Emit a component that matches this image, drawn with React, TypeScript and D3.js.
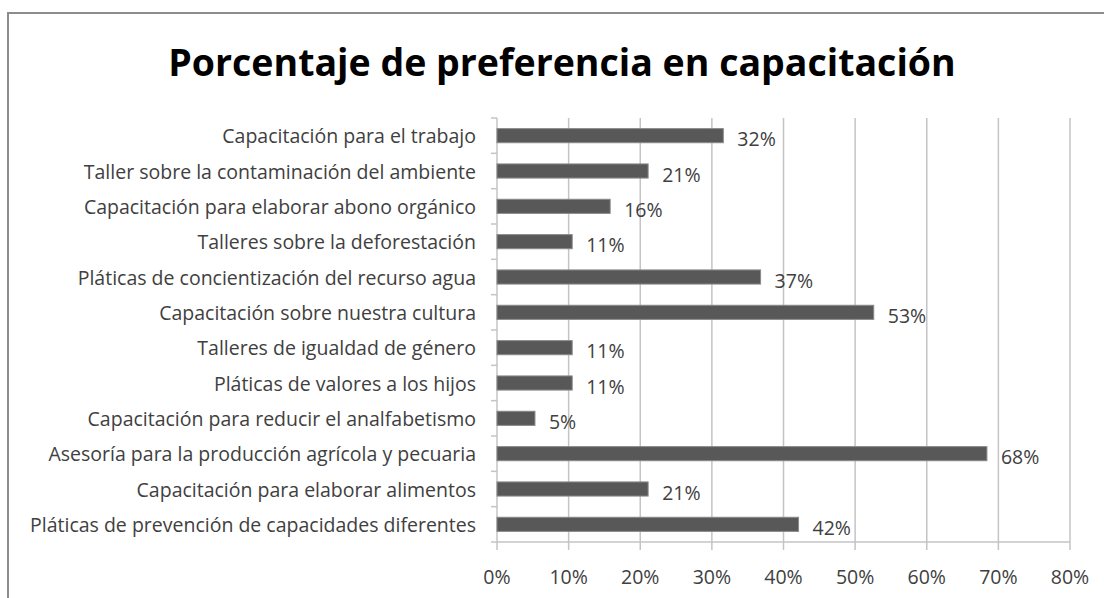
import React from "react";
import * as d3 from "d3";

const categories = [
  "Capacitación para el trabajo",
  "Taller sobre la contaminación del ambiente",
  "Capacitación para elaborar abono orgánico",
  "Talleres sobre la deforestación",
  "Pláticas de concientización del recurso agua",
  "Capacitación sobre nuestra cultura",
  "Talleres de igualdad de género ",
  "Pláticas de valores a los hijos",
  "Capacitación para reducir el analfabetismo",
  "Asesoría para la producción agrícola y pecuaria",
  "Capacitación para elaborar alimentos",
  "Pláticas de prevención de capacidades diferentes",
];
const values = [31.6, 21.1, 15.8, 10.5, 36.8, 52.6, 10.5, 10.5, 5.3, 68.4, 21.1, 42.1];
const xTicks = [0, 10, 20, 30, 40, 50, 60, 70, 80];
const title = "Porcentaje de preferencia en capacitación";

const W = 1104;
const H = 598;
const FONT = "'Open Sans', Lato, sans-serif";
const FS = 19.5;

export default function App() {
  const left = 497;
  const right = 1070;
  const top = 118;
  const bottom = 542;
  const x = d3.scaleLinear().domain([0, 80]).range([left, right]);
  const y = d3.scaleBand<string>().domain(categories).range([top, bottom]).paddingInner(0.6).paddingOuter(0.3);
  const band = (bottom - top) / categories.length;
  const boundaries = d3.range(categories.length + 1).map((i) => top + i * band);

  return (
    <svg width={W} height={H} style={{ position: "absolute", left: 0, top: 0, background: "#fff" }}>
      <rect x={0} y={0} width={W} height={H} fill="#fff" />
      <rect x={8} y={13} width={W + 20} height={H + 20} fill="none" stroke="#8c8c8c" strokeWidth={2} />
      <text x={562} y={76} textAnchor="middle" fontFamily={FONT} fontWeight={700} fontSize={37.5} fill="#000">
        {title}
      </text>
      {xTicks.slice(1).map((t) => (
        <line key={"g" + t} x1={x(t)} x2={x(t)} y1={top} y2={bottom} stroke="#c4c4c4" strokeWidth={1.5} />
      ))}
      <line x1={left} x2={right} y1={bottom} y2={bottom} stroke="#c4c4c4" strokeWidth={1.5} />
      {xTicks.map((t) => (
        <line key={"t" + t} x1={x(t)} x2={x(t)} y1={bottom} y2={bottom + 8} stroke="#c4c4c4" strokeWidth={1.5} />
      ))}
      <line x1={left} x2={left} y1={top} y2={bottom} stroke="#c4c4c4" strokeWidth={1.5} />
      {boundaries.map((b, i) => (
        <line key={"yt" + i} x1={left - 6} x2={left} y1={b} y2={b} stroke="#c4c4c4" strokeWidth={1.5} />
      ))}
      {categories.map((c, i) => (
        <g key={c}>
          <rect
            x={x(0)}
            y={y(c)!}
            width={x(values[i]) - x(0)}
            height={y.bandwidth()}
            fill="#585858"
            stroke="#8a8a8a"
            strokeWidth={1}
          />
          <text
            x={476}
            y={y(c)! + y.bandwidth() / 2}
            dominantBaseline="central"
            textAnchor="end"
            fontFamily={FONT}
            fontSize={FS}
            fill="#404040"
          >
            {c}
          </text>
          <text
            x={x(values[i]) + 14}
            y={y(c)! + y.bandwidth() / 2 + 3}
            dominantBaseline="central"
            fontFamily={FONT}
            fontSize={FS}
            fill="#404040"
          >
            {Math.round(values[i]) + "%"}
          </text>
        </g>
      ))}
      {xTicks.map((t) => (
        <text
          key={"l" + t}
          x={x(t)}
          y={576}
          dominantBaseline="central"
          textAnchor="middle"
          fontFamily={FONT}
          fontSize={FS}
          fill="#404040"
        >
          {t + "%"}
        </text>
      ))}
    </svg>
  );
}
